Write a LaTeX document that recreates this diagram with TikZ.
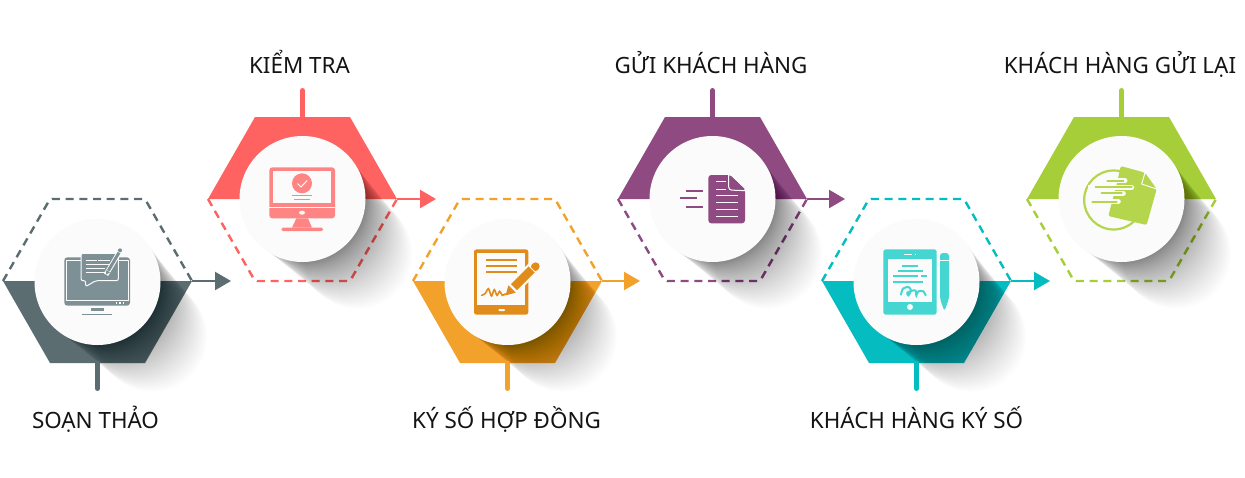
\documentclass[tikz,border=0pt]{standalone}
\usepackage{fontspec}
\setmainfont{Noto Sans}
\usetikzlibrary{arrows.meta,calc}
\definecolor{cgray}{HTML}{5C6D71}
\definecolor{cred}{HTML}{FF6361}
\definecolor{corange}{HTML}{F2A22A}
\definecolor{cpurple}{HTML}{8F4A82}
\definecolor{cteal}{HTML}{05BCC1}
\definecolor{cgreen}{HTML}{A6CE39}
\definecolor{igray}{HTML}{7C9095}
\definecolor{ired}{HTML}{FF8585}
\definecolor{iorange}{HTML}{E18C1A}
\definecolor{iteal}{HTML}{45D6D2}
\definecolor{igreen}{HTML}{B5D54C}
\definecolor{bgc}{HTML}{FBFBFB}
\tikzset{
  discbox/.style={circle,fill=bgc,minimum size=126pt,inner sep=0pt},
  dashline/.style={line width=2.4pt,dash pattern=on 8pt off 5.7pt,rounded corners=2pt,line join=round},
  stemline/.style={line width=5pt,line cap=round},
  flowline/.style={line width=2.4pt,-{Triangle[length=16pt,width=18pt]}},
  labeltext/.style={font=\fontsize{22.4pt}{26pt}\selectfont,text=black!92,anchor=base,inner sep=0pt},
  iconspace/.style={x=0.33333pt,y=-0.33333pt},
}
\newcommand{\softshadow}[2]{%
  \foreach \k in {1,...,60}{%
    \fill[black,opacity=.0062] ({#1+0.5*\k+0.007*\k*\k},{#2+0.5*\k+0.007*\k*\k}) circle [radius={63-0.14*\k}];
  }}
\newcommand{\hexdown}[3]{% filled lower half
  \coordinate (L#1) at ({#2-94.5},281);
  \coordinate (R#1) at ({#2+94.5},281);
  \coordinate (S#1) at (#2,363);
  \coordinate (E#1) at (#2,388.5);
  \fill[#3] (L#1) -- (R#1) -- ({#2+47.5},363) -- ({#2-47.5},363) -- cycle;
  \draw[#3,dashline] (L#1) -- ({#2-47.5},199) -- ({#2+47.5},199) -- (R#1);
  \softshadow{#2}{282}
  \draw[#3,stemline] (S#1) -- (E#1);
  \node[discbox] (C#1) at (#2,282) {};
}
\newcommand{\hexup}[3]{% filled upper half
  \coordinate (L#1) at ({#2-94.5},199);
  \coordinate (R#1) at ({#2+94.5},199);
  \coordinate (S#1) at (#2,117);
  \coordinate (E#1) at (#2,90.5);
  \fill[#3] (L#1) -- (R#1) -- ({#2+47.5},117) -- ({#2-47.5},117) -- cycle;
  \draw[#3,dashline] (L#1) -- ({#2-47.5},281) -- ({#2+47.5},281) -- (R#1);
  \softshadow{#2}{199}
  \draw[#3,stemline] (S#1) -- (E#1);
  \node[discbox] (C#1) at (#2,199) {};
}
\begin{document}
\begin{tikzpicture}[x=1pt,y=-1pt]
\useasboundingbox (0,0) rectangle (1245,477);
\fill[white] (0,0) rectangle (1245,477);

\hexdown{1}{97.5}{cgray}
\hexup{2}{302.5}{cred}
\hexdown{3}{507.5}{corange}
\hexup{4}{712.5}{cpurple}
\hexdown{5}{916.5}{cteal}
\hexup{6}{1121.5}{cgreen}

% flow arrows
\coordinate (T1) at (231,281);
\coordinate (T2) at (436,199);
\coordinate (T3) at (640,281);
\coordinate (T4) at (845,199);
\coordinate (T5) at (1050,281);
\draw[cgray,flowline] (R1) -- (T1);
\draw[cred,flowline] (R2) -- (T2);
\draw[corange,flowline] (R3) -- (T3);
\draw[cpurple,flowline] (R4) -- (T4);
\draw[cteal,flowline] (R5) -- (T5);

% labels
\node[labeltext] (t1) at (95.5,428) {SOẠN THẢO};
\node[labeltext] (t2) at (299.5,73) {KIỂM TRA};
\node[labeltext] (t3) at (506.5,428) {KÝ SỐ HỢP ĐỒNG};
\node[labeltext] (t4) at (711,73) {GỬI KHÁCH HÀNG};
\node[labeltext] (t5) at (916.5,428) {KHÁCH HÀNG KÝ SỐ};
\node[labeltext] (t6) at (1120,73) {KHÁCH HÀNG GỬI LẠI};

% icon 1
\begin{scope}[shift={(55,240)},iconspace]
\fill[igray,rounded corners=3pt] (28,52) rectangle (225,197);
\draw[bgc,line width=1pt] (34,60) rectangle (219,180);
\foreach \q in {183,193,203} \fill[bgc] (\q,187) rectangle ++(4,4);
\fill[igray] (108,203) rectangle (147,213);
\fill[igray] (82,222) rectangle (172,226);
\filldraw[fill=igray,draw=bgc,line width=1pt,rounded corners=2pt] (78,40) -- (190,40) -- (190,122) -- (122,122) -- (92,140) -- (92,122) -- (78,122) -- cycle;
\draw[bgc,line width=1pt] (92,60) -- (125,60) (130,60) -- (165,60) (92,73) -- (165,73) (92,85) -- (150,85) (92,97) -- (150,97);
\draw[bgc,line width=5pt] (197,30) -- (153,104);
\draw[igray,line width=3pt] (192,38) -- (160,92);
\fill[igray] (153,104) -- (154,90) -- (165,97) -- cycle;
\fill[igray] (195,31) circle (2pt);
\end{scope}

% icon 2
\begin{scope}[shift={(262,160)},iconspace]
\fill[ired,rounded corners=3pt] (22,22) rectangle (219,175);
\fill[bgc] (33,33) rectangle (208,130);
\fill[bgc] (22,141) rectangle (219,144);
\fill[bgc] (120,158) ellipse (3pt and 2pt);
\fill[ired] (103,175) -- (138,175) -- (150,203) -- (90,203) -- cycle;
\fill[ired,rounded corners=1.5pt] (58,203) rectangle (183,213);
\fill[ired] (120,70) circle (10pt);
\draw[bgc,line width=1pt,line cap=round,line join=round] (107,71) -- (117,81) -- (135,62);
\draw[ired,line width=1pt] (90,105) -- (150,105) (97,117) -- (143,117);
\end{scope}

% icon 3
\begin{scope}[shift={(465,242)},iconspace]
\fill[iorange,rounded corners=2.5pt] (27,22) rectangle (190,218);
\fill[bgc] (37,33) rectangle (180,190);
\fill[bgc,rounded corners=1pt] (100,201) rectangle (120,207);
\draw[iorange,line width=1.7pt] (63,53) -- (157,53) (63,72) -- (157,72) (63,90) -- (157,90);
\draw[iorange,line width=1.6pt,line cap=round] plot[smooth] coordinates {(50,160) (60,155) (70,140) (76,155) (80,162) (88,143) (96,160) (104,148) (112,160) (122,155)};
\draw[bgc,line width=13pt] (125,157) -- (216,67);
\fill[iorange] (155,145) -- (137,127) -- (192,72) -- (210,90) -- cycle;
\fill[iorange] (122,160) -- (130,130) -- (152,152) -- cycle;
\draw[iorange,line width=8pt,line cap=round] (209,76) -- (212,73);
\draw[bgc,line width=1pt] (136,127) -- (156,147) (190,70) -- (211,91);
\end{scope}

% icon 4
\begin{scope}[shift={(670,160)},iconspace]
\fill[cpurple,rounded corners=3pt] (115,45) -- (180,45) -- (225,88) -- (225,190) -- (115,190) -- cycle;
\draw[bgc,line width=1pt,rounded corners=3pt] (176,45) -- (176,90) -- (225,92);
\fill[bgc] (180,45) -- (226,45) -- (226,88) -- cycle;
\fill[cpurple] (182,47) -- (224,87) -- (195,87) to[out=180,in=90] (182,72) -- cycle;
\draw[bgc,line width=1pt] (138,65) -- (168,65) (138,87) -- (168,87) (138,105) -- (205,105) (138,127) -- (205,127) (138,148) -- (205,148) (138,170) -- (205,170);
\draw[cpurple,line width=1.8pt] (47,92) -- (100,92) (30,115) -- (82,115) (47,141) -- (100,141);
\end{scope}

% icon 5
\begin{scope}[shift={(875,242)},iconspace]
\fill[iteal,rounded corners=2.5pt] (25,22) rectangle (185,218);
\fill[bgc] (40,50) rectangle (170,180);
\fill[bgc] (88,36) rectangle (110,40);
\fill[bgc] (119,36) rectangle (122,40);
\fill[bgc] (105,195) circle (3pt);
\draw[iteal,line width=1.9pt] (80,71) -- (130,71) (68,88) -- (145,88) (55,103) -- (130,103) (138,103) -- (155,103) (55,120) -- (145,120);
\draw[iteal,line width=2pt,line cap=round] plot[smooth] coordinates {(78,158) (84,140) (100,135) (108,145) (100,160) (97,152) (112,146) (122,146) (124,160) (130,148) (145,148) (152,160)};
\fill[iteal,rounded corners=3pt] (195,33) -- (222,33) -- (222,170) -- (208,208) -- (195,170) -- cycle;
\fill[bgc] (195,54) rectangle (222,56);
\end{scope}

% icon 6
\begin{scope}[shift={(1080,160)},iconspace]
\draw[igreen,line width=2.2pt] (101,120) circle (29.5pt);
\fill[igreen,rounded corners=2pt] (122,18) -- (195,38) -- (230,87) -- (200,195) -- (85,168) -- (112,65) -- cycle;
\draw[bgc,line width=1pt,line join=round] (195,38) -- (185,72) -- (230,87);
\draw[bgc,line width=5pt,line cap=round] (75,62) -- (135,62) (40,82) -- (155,82) (58,100) -- (130,100) (30,125) -- (115,125);
\fill[bgc] (24,75) -- (70,75) -- (62,135) -- (30,135) -- cycle;
\draw[igreen,line width=2.2pt,line cap=round] (82,62) -- (130,62) (47,82) -- (155,82) (65,100) -- (125,100) (37,125) -- (110,125);
\end{scope}
\end{tikzpicture}
\end{document}
